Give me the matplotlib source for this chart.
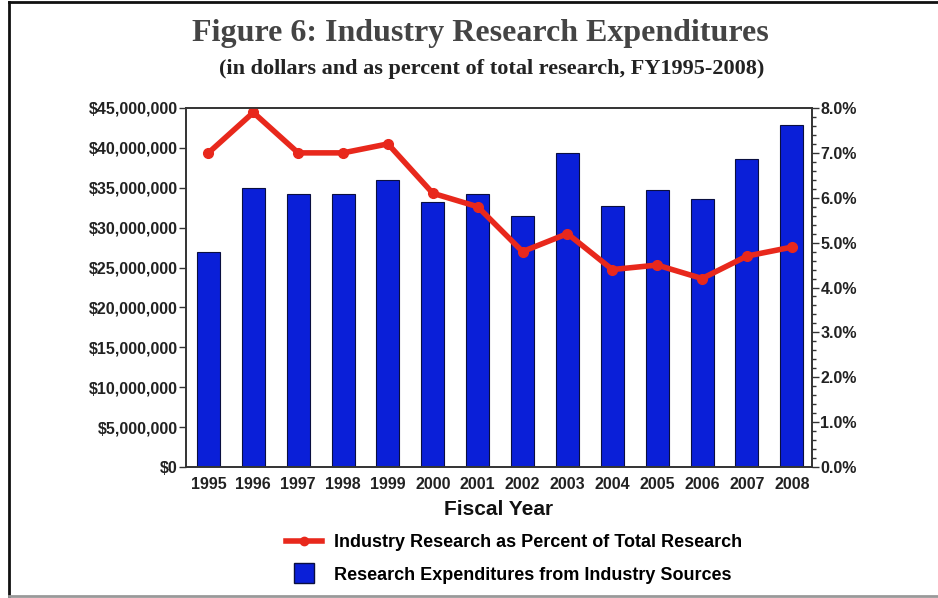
import matplotlib
matplotlib.use("Agg")
import matplotlib.pyplot as plt
from matplotlib.ticker import MultipleLocator, FuncFormatter
from matplotlib.lines import Line2D

# data
years = ['1995', '1996', '1997', '1998', '1999', '2000', '2001',
         '2002', '2003', '2004', '2005', '2006', '2007', '2008']
expenditures = [27.0e6, 35.0e6, 34.2e6, 34.2e6, 36.0e6, 33.25e6, 34.2e6,
                31.4e6, 39.3e6, 32.75e6, 34.7e6, 33.55e6, 38.6e6, 42.9e6]
percent = [7.0, 7.9, 7.0, 7.0, 7.2, 6.1, 5.8,
           4.8, 5.2, 4.4, 4.5, 4.2, 4.7, 4.9]

bar_color = '#0a1fd8'
line_color = '#e8281c'
tick_font = dict(family='Liberation Sans', weight='bold', size=11.5)

fig = plt.figure(figsize=(9.38, 5.98), dpi=100)
ax = fig.add_axes([186/938, 1-467/598, 626/938, 359/598])
x = range(len(years))

ax.bar(x, expenditures, width=0.51, color=bar_color, edgecolor='#0a0f40', linewidth=0.8)
ax.set_xlim(-0.5, 13.45)
ax.set_ylim(0, 45e6)
ax.yaxis.set_major_locator(MultipleLocator(5e6))
ax.yaxis.set_major_formatter(FuncFormatter(lambda v, p: '${:,.0f}'.format(v)))
ax.set_xticks(list(x))
ax.set_xticklabels(years)
ax.tick_params(axis='x', length=0, pad=7)
ax.tick_params(axis='y', length=5, width=1, color='#333333', pad=1)
for lab in ax.get_xticklabels() + ax.get_yticklabels():
    lab.set_fontproperties(tick_font)
    lab.set_color('#222222')
ax.set_xlabel('Fiscal Year', family='Liberation Sans', weight='bold', size=15,
              color='#111111', labelpad=6)
for s in ax.spines.values():
    s.set_color('#333333')
    s.set_linewidth(1.2)

# percent line on the right axis
ax2 = ax.twinx()
ax2.plot(x, percent, color=line_color, linewidth=4, marker='o', markersize=7)
ax2.set_ylim(0, 8)
ax2.yaxis.set_major_locator(MultipleLocator(1))
ax2.yaxis.set_minor_locator(MultipleLocator(0.2))
ax2.yaxis.set_major_formatter(FuncFormatter(lambda v, p: '{:.1f}%'.format(v)))
ax2.tick_params(axis='y', which='major', length=5, width=1, color='#333333', pad=1)
ax2.tick_params(axis='y', which='minor', length=3, width=1, color='#333333')
for lab in ax2.get_yticklabels():
    lab.set_fontproperties(tick_font)
    lab.set_color('#222222')
for s in ax2.spines.values():
    s.set_color('#333333')
    s.set_linewidth(1.2)

# titles
fig.text(0.512, 1-34/598, 'Figure 6: Industry Research Expenditures', ha='center', va='center',
         family='Liberation Serif', weight='bold', size=23, color='#444444')
fig.text(0.524, 1-69/598, '(in dollars and as percent of total research, FY1995-2008)',
         ha='center', va='center', family='Liberation Serif', weight='bold', size=16,
         color='#222222')

# legend
handles = [Line2D([], [], color=line_color, linewidth=4, marker='o', markersize=6),
           Line2D([], [], linestyle='none', marker='s', markersize=14,
                  markerfacecolor=bar_color, markeredgecolor='#0a0f40')]
labels = ['Industry Research as Percent of Total Research',
          'Research Expenditures from Industry Sources']
fig.legend(handles, labels, loc='center', bbox_to_anchor=(0.548, 1-559/598), frameon=False,
           prop=dict(family='Liberation Sans', weight='bold', size=13),
           handlelength=2.0, handletextpad=0.7, labelspacing=0.85)

# frame around the figure
fig.add_artist(Line2D([9/938, 9/938], [0.004, 1-2/598], color='#111111', linewidth=2,
                      transform=fig.transFigure))
fig.add_artist(Line2D([9/938, 1], [1-2/598, 1-2/598], color='#111111', linewidth=2,
                      transform=fig.transFigure))
fig.add_artist(Line2D([9/938, 1], [0.003, 0.003], color='#999999', linewidth=2,
                      transform=fig.transFigure))

fig.savefig('out.png', dpi=100)
